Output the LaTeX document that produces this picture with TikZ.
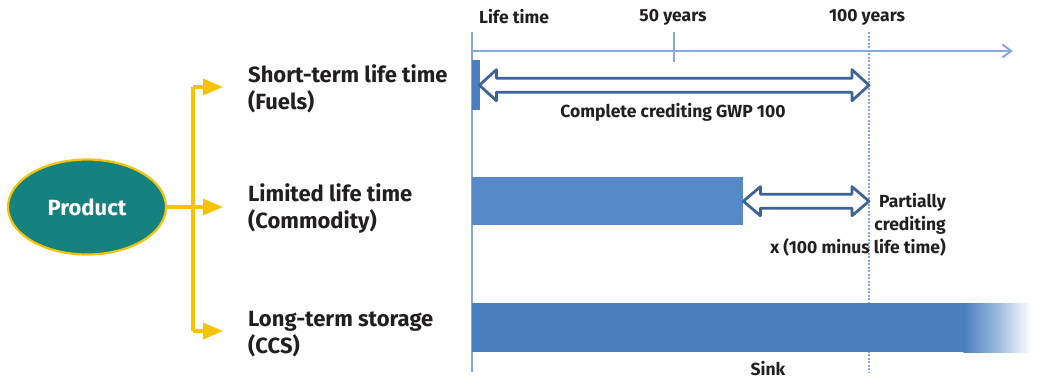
\documentclass[tikz,border=0pt]{standalone}
\usepackage{fontspec}
\setmainfont{Fira Sans}
\usetikzlibrary{shapes.geometric,arrows.meta,calc}
\definecolor{teal}{HTML}{158280}
\definecolor{gold}{HTML}{F7C300}
\definecolor{axisblue}{HTML}{86A9D9}
\definecolor{barblue}{HTML}{5589C8}
\definecolor{sinkblue}{HTML}{4A7FC0}
\definecolor{arrowblue}{HTML}{3D6496}
\definecolor{txt}{HTML}{231F20}
\begin{document}
\begin{tikzpicture}[x=1pt,y=-1pt,
  prod/.style={ellipse, fill=teal, draw=gold, line width=2.2pt, minimum width=158pt, minimum height=95pt,
    text=white, font=\fontsize{22}{26}\selectfont\bfseries},
  bigl/.style={anchor=west, align=left, text=txt, inner sep=0pt, font=\fontsize{22}{27}\selectfont\bfseries},
  smalll/.style={text=txt, inner sep=0pt, font=\fontsize{17.5}{23}\selectfont\bfseries},
  yline/.style={draw=gold, line width=3.5pt},
  yarrow/.style={draw=gold, line width=3.5pt, -{Triangle[length=20pt,width=16pt]}},
  axisline/.style={draw=axisblue, line width=2.2pt},
  dotline/.style={draw=axisblue, line width=2pt, dash pattern=on 2pt off 1.5pt},
  bar/.style={rectangle, inner sep=0pt, anchor=north west, draw=none},
  dbl/.style={draw=arrowblue, fill=white, line width=2.8pt, line join=round}
]
\useasboundingbox (0,0) rectangle (1037,380);

% left side
\node[prod] (prod) at (87,207) {Product};
\coordinate (top) at (193,87);
\coordinate (bot) at (193,331);
\coordinate (a1) at (223,87);
\coordinate (a2) at (223,207);
\coordinate (a3) at (223,331);
\draw[yline] (top) -- (bot);
\draw[yarrow] (prod.east) -- (a2);
\draw[yarrow] (top) -- (a1);
\draw[yarrow] (bot) -- (a3);

\node[bigl] (fuel) at (248,89) {Short-term life time\\(Fuels)};
\node[bigl] (comm) at (248,209) {Limited life time\\(Commodity)};
\node[bigl] (ccs) at (248,334) {Long-term storage\\(CCS)};

% timeline
\coordinate (o) at (472,51);
\coordinate (vtop) at (472,32);
\coordinate (vbot) at (472,372);
\coordinate (aend) at (1013,51);
\coordinate (t50a) at (674,32);
\coordinate (t50b) at (674,62);
\coordinate (c100) at (869,32);
\coordinate (c100b) at (869,372);
\draw[dotline] (c100) -- (c100b);
\draw[axisline] (vtop) -- (vbot);
\draw[axisline, -{Straight Barb[length=9pt,width=13pt,line width=2pt]}] (o) -- (aend);
\draw[axisline] (t50a) -- (t50b);

\node[smalll] (lt) at (514,17) {Life time};
\node[smalll] (y50) at (673,17) {50 years};
\node[smalll] (y100) at (867,17) {100 years};

% fuels
\node[bar, fill=sinkblue, minimum width=8pt, minimum height=50pt] (fuelbar) at (472,60) {};
\coordinate (A1) at ($(fuelbar.east)+(-1,0)$);
\coordinate (B1) at (c100 |- fuelbar.east);
\draw[dbl] (A1) -- ++(17,-15.5) -- ++(0,8.5) -- ($(B1)+(-17,-7)$) -- ++(0,-8.5) -- (B1)
  -- ++(-17,15.5) -- ++(0,-8.5) -- ($(A1)+(17,7)$) -- ++(0,8.5) -- cycle;
\node[smalll] (cc) at (673,112) {Complete crediting GWP 100};

% commodity
\node[bar, fill=barblue, minimum width=271pt, minimum height=48pt] (combar) at (472,177) {};
\coordinate (B2) at (c100 |- combar.east);
\draw[dbl] (combar.east) -- ++(17,-14.5) -- ++(0,7.5) -- ($(B2)+(-17,-7)$) -- ++(0,-7.5) -- (B2)
  -- ++(-17,14.5) -- ++(0,-7.5) -- ($(combar.east)+(17,7)$) -- ++(0,7.5) -- cycle;
\node[smalll, align=right, anchor=east] (pc) at (946,225) {Partially\\crediting\\x (100 minus life time)};

% sink
\node[bar, fill=sinkblue, minimum width=492pt, minimum height=49pt] (sinkbar) at (472,303) {};
\shade[left color=sinkblue, right color=white, middle color=sinkblue!55!white]
  ([xshift=-1pt]sinkbar.north east) rectangle (1031,352);
\node[smalll] (sink) at (768,369) {Sink};
\end{tikzpicture}
\end{document}
